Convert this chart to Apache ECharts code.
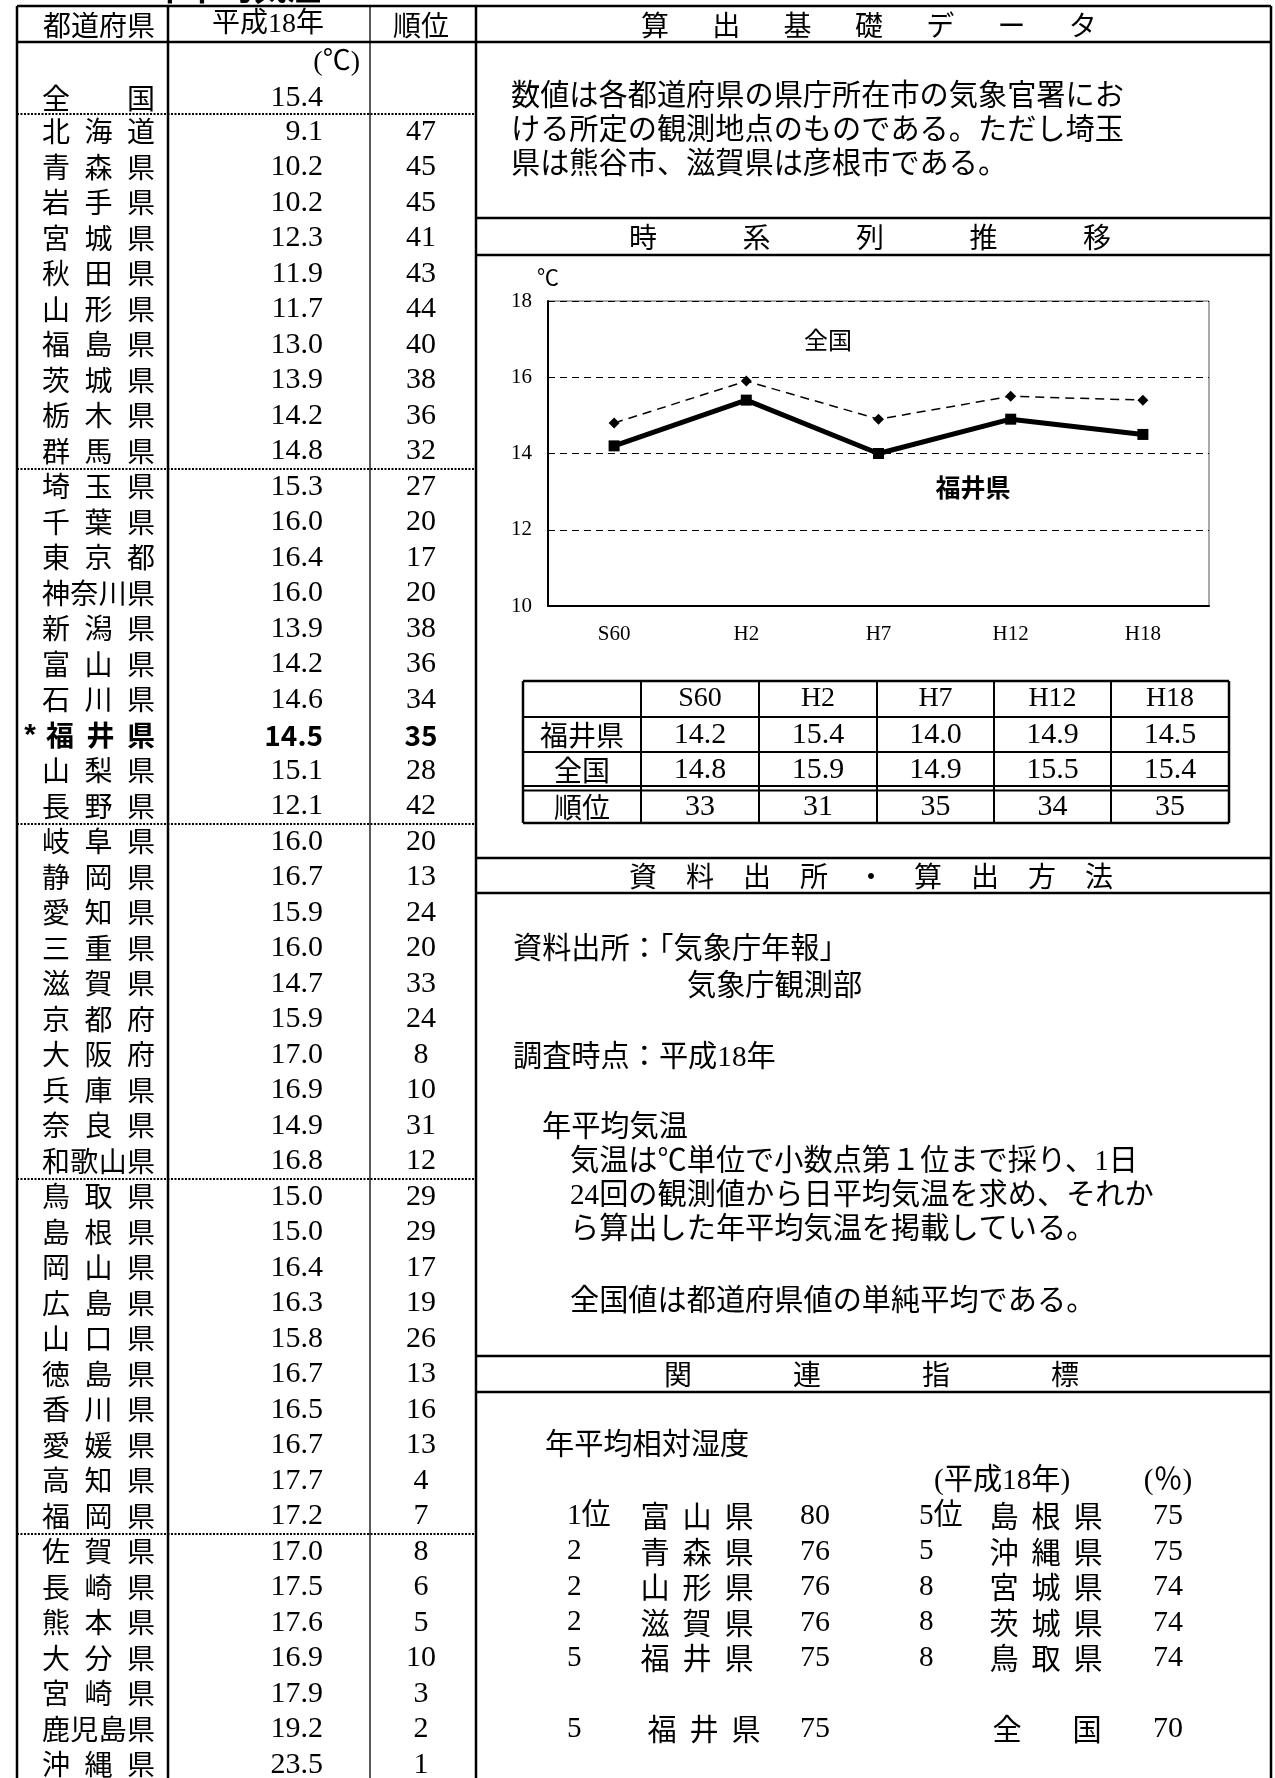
<!DOCTYPE html>
<html><head><meta charset="utf-8">
<script src="https://cdn.jsdelivr.net/npm/echarts@6/dist/echarts.min.js"></script>
<style>html,body{margin:0;padding:0;background:#fff}#c{width:1275px;height:1778px}</style>
</head><body><div id="c"></div>
<script>
// ---------- data ----------
const prefNames = ['北海道','青森県','岩手県','宮城県','秋田県','山形県','福島県','茨城県','栃木県','群馬県',
  '埼玉県','千葉県','東京都','神奈川県','新潟県','富山県','石川県','福井県','山梨県','長野県',
  '岐阜県','静岡県','愛知県','三重県','滋賀県','京都府','大阪府','兵庫県','奈良県','和歌山県',
  '鳥取県','島根県','岡山県','広島県','山口県','徳島県','香川県','愛媛県','高知県','福岡県',
  '佐賀県','長崎県','熊本県','大分県','宮崎県','鹿児島県','沖縄県'];
const prefTemps = [9.1,10.2,10.2,12.3,11.9,11.7,13.0,13.9,14.2,14.8,
  15.3,16.0,16.4,16.0,13.9,14.2,14.6,14.5,15.1,12.1,
  16.0,16.7,15.9,16.0,14.7,15.9,17.0,16.9,14.9,16.8,
  15.0,15.0,16.4,16.3,15.8,16.7,16.5,16.7,17.7,17.2,
  17.0,17.5,17.6,16.9,17.9,19.2,23.5];
const prefRanks = [47,45,45,41,43,44,40,38,36,32,
  27,20,17,20,38,36,34,35,28,42,
  20,13,24,20,33,24,8,10,31,12,
  29,29,17,19,26,13,16,13,4,7,
  8,6,5,10,3,2,1];
const nationalTemp = 15.4;
const groupEndRows = [9,19,29,39];
const highlightPref = '福井県';

const years = ['S60','H2','H7','H12','H18'];
const fukuiSeries = [14.2,15.4,14.0,14.9,14.5];
const zenkokuSeries = [14.8,15.9,14.9,15.5,15.4];
const fukuiRankSeries = [33,31,35,34,35];

const humidityLeft = [['1位','富山県',80],['2','青森県',76],['2','山形県',76],['2','滋賀県',76],['5','福井県',75]];
const humidityRight = [['5位','島根県',75],['5','沖縄県',75],['8','宮城県',74],['8','茨城県',74],['8','鳥取県',74]];
const humidityFukui = ['5','福井県',75];
const humidityNational = 70;

// ---------- layout helpers ----------
const SERIF = '"Liberation Serif","Noto Sans CJK JP",serif';
const CJK = '"Noto Sans CJK JP",sans-serif';
const BOLD = '"Noto Sans CJK JP",sans-serif';
const els = [];
function line(x1,y1,x2,y2,w,dash){
  const st = {stroke:'#000', lineWidth:w};
  if (dash) st.lineDash = dash;
  els.push({type:'line', silent:true, z:10, shape:{x1,y1,x2,y2}, style:st});
}
function text(x,y,str,size,family,align,weight){
  const a = align||'center';
  els.push({type:'text', silent:true, z:10, x, y, style:{text:str, fill:'#000', fontSize:size, fontFamily:family,
    fontWeight:weight||'normal', align:a, verticalAlign:'middle', textAlign:a, textVerticalAlign:'middle'}});
}
function spread(str,x0,x1,y,size,family,weight){
  const n = str.length;
  for (let k=0;k<n;k++){
    const cx = n===1 ? (x0+x1)/2 : x0+(x1-x0)*k/(n-1);
    text(cx,y,str[k],size,family,'center',weight);
  }
}
function spaced(str,start,step,y,size){
  for (let k=0;k<str.length;k++) text(start+step*k,y,str[k],size,CJK,'center');
}

const ROW0 = 114, RH = 35.5;
const rowC = i => ROW0 + RH*(i+0.5);
const X_L = 17, X_C1 = 168, X_C2 = 370, X_R = 476, X_RR = 1271, Y_T = 6, Y_H = 42, Y_B = 1778;

// title (clipped at top, as in the original page)
text(236,-13,'年平均気温',34,BOLD,'center','bold');

// outer frame
line(X_L,Y_T,X_RR,Y_T,2.5);
line(X_L,Y_H,X_RR,Y_H,2.5);
line(X_L,Y_T,X_L,Y_B,2.5);
line(X_C1,Y_T,X_C1,Y_B,2.5);
line(X_C2,Y_T,X_C2,Y_B,1.3);
line(X_R,Y_T,X_R,Y_B,2.5);
line(X_RR,Y_T,X_RR,Y_B,2.5);

// left table header
text(99,25,'都道府県',28,CJK);
text(268,25,'平成18年',28,SERIF);
text(421,25,'順位',28,CJK);
text(360,63,'(℃)',28,SERIF,'right');
spread('全国',56,141,98,28,CJK);
text(323,98,nationalTemp.toFixed(1),30,SERIF,'right');
line(X_L,ROW0,X_R,ROW0,2,[2,1.5]);

prefNames.forEach((nm,i)=>{
  const y = rowC(i);
  const hl = nm===highlightPref;
  if (hl){
    text(30,y,'*',30,'"Liberation Sans",sans-serif','center','bold');
    spread(nm,60,141,y,28,BOLD,'bold');
    text(323,y,prefTemps[i].toFixed(1),28,BOLD,'right','bold');
    text(421,y,String(prefRanks[i]),28,BOLD,'center','bold');
  } else {
    spread(nm,56,141,y,28,CJK);
    text(323,y,prefTemps[i].toFixed(1),30,SERIF,'right');
    text(421,y,String(prefRanks[i]),30,SERIF,'center');
  }
});
groupEndRows.forEach(i=>{ const y = ROW0+RH*(i+1); line(X_L,y,X_R,y,2,[2,1.5]); });

// right panel section lines
[218,255,858,893,1356,1392].forEach(y=>line(X_R,y,X_RR,y,2.5));
spaced('算出基礎データ',655,71.3,25,28);
spaced('時系列推移',643,113.5,237,28);
spaced('資料出所・算出方法',643,57,876,28);
spaced('関連指標',678,129,1374,28);

// section 1 text
const FS = 29.2;
text(511,97,'数値は各都道府県の県庁所在市の気象官署にお',FS,SERIF,'left');
text(511,131,'ける所定の観測地点のものである。ただし埼玉',FS,SERIF,'left');
text(511,165,'県は熊谷市、滋賀県は彦根市である。',FS,SERIF,'left');

// chart annotations
text(828,340,'全国',24,CJK);
text(973,487,'福井県',25,BOLD,'center','bold');

// small table under the chart
const TX = [523,641,759,877,994,1111,1229];
line(TX[0],681,TX[6],681,2.5);
line(TX[0],717,TX[6],717,2);
line(TX[0],752,TX[6],752,2);
line(TX[0],786,TX[6],786,2);
line(TX[0],790.5,TX[6],790.5,2);
line(TX[0],823,TX[6],823,2.5);
TX.forEach((x,k)=>line(x,681,x,823,(k===0||k===6)?2.5:2));
const colC = k => (TX[k]+TX[k+1])/2;
text(colC(0),735,'福井県',28,CJK);
text(colC(0),770,'全国',28,CJK);
text(colC(0),807,'順位',28,CJK);
years.forEach((yr,k)=>{
  text(colC(k+1),699,yr,28,SERIF);
  text(colC(k+1),735,fukuiSeries[k].toFixed(1),30,SERIF);
  text(colC(k+1),770,zenkokuSeries[k].toFixed(1),30,SERIF);
  text(colC(k+1),807,String(fukuiRankSeries[k]),30,SERIF);
});

// section 3 text
text(513,950,'資料出所：「気象庁年報」',FS,SERIF,'left');
text(687,987,'気象庁観測部',FS,SERIF,'left');
text(513,1058,'調査時点：平成18年',FS,SERIF,'left');
text(542,1128,'年平均気温',FS,SERIF,'left');
text(570,1162,'気温は℃単位で小数点第１位まで採り、1日',FS,SERIF,'left');
text(570,1196,'24回の観測値から日平均気温を求め、それか',FS,SERIF,'left');
text(570,1230,'ら算出した年平均気温を掲載している。',FS,SERIF,'left');
text(570,1302,'全国値は都道府県値の単純平均である。',FS,SERIF,'left');

// section 4
text(545,1446,'年平均相対湿度',FS,SERIF,'left');
text(934,1481,'(平成18年)',FS,SERIF,'left');
text(1168,1481,'(％)',FS,SERIF,'center');
humidityLeft.forEach((r,k)=>{
  const y = rowC(39+k);
  text(567,y,r[0],FS,SERIF,'left');
  spread(r[1],655,739,y,FS,CJK);
  text(815,y,String(r[2]),30,SERIF,'center');
});
humidityRight.forEach((r,k)=>{
  const y = rowC(39+k);
  text(919,y,r[0],FS,SERIF,'left');
  spread(r[1],1004,1088,y,FS,CJK);
  text(1168,y,String(r[2]),30,SERIF,'center');
});
{
  const y = rowC(45);
  text(567,y,humidityFukui[0],FS,SERIF,'left');
  spread(humidityFukui[1],662,746,y,FS,CJK);
  text(815,y,String(humidityFukui[2]),30,SERIF,'center');
  spread('全国',1007,1087,y,FS,CJK);
  text(1168,y,String(humidityNational),30,SERIF,'center');
}

// ---------- chart ----------
const chart = echarts.init(document.getElementById('c'), null, {renderer:'canvas'});
chart.setOption({
  backgroundColor:'#fff',
  animation:false,
  grid:{left:548, top:301, width:661, height:305, show:true, borderColor:'#555', borderWidth:1, backgroundColor:'transparent'},
  xAxis:{type:'category', data:years, boundaryGap:true,
    axisLine:{lineStyle:{color:'#000', width:2}}, axisTick:{show:false},
    axisLabel:{color:'#000', fontFamily:'"Liberation Serif",serif', fontSize:21, margin:18}},
  yAxis:{type:'value', min:10, max:18, interval:2, name:'℃', nameLocation:'end', nameGap:10,
    nameTextStyle:{color:'#000', fontSize:22, fontFamily:SERIF, align:'center'},
    axisLine:{show:true, lineStyle:{color:'#000', width:2}}, axisTick:{show:false},
    axisLabel:{color:'#000', fontFamily:'"Liberation Serif",serif', fontSize:21, margin:16},
    splitLine:{show:true, lineStyle:{color:'#000', width:1, type:[7,5]}}},
  series:[
    {name:'全国', type:'line', data:zenkokuSeries, symbol:'diamond', symbolSize:11,
      lineStyle:{color:'#000', width:1.5, type:[9,6]}, itemStyle:{color:'#000'}, z:3},
    {name:'福井県', type:'line', data:fukuiSeries, symbol:'rect', symbolSize:11,
      lineStyle:{color:'#000', width:5}, itemStyle:{color:'#000'}, z:4}
  ],
  graphic:{elements:els}
});
</script>
</body></html>
